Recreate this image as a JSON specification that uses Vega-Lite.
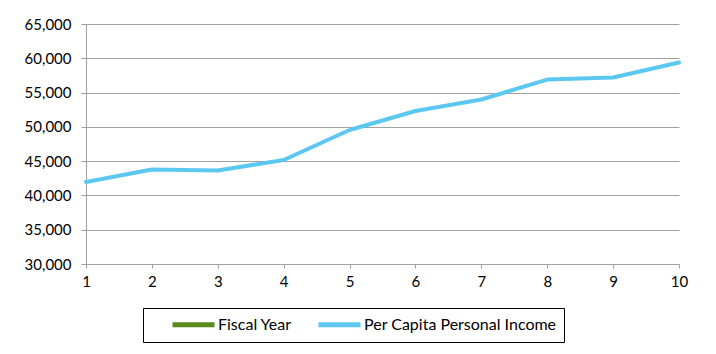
{
  "$schema": "https://vega.github.io/schema/vega-lite/v6.json",
  "autosize": {"type": "none"},
  "width": 593,
  "height": 240,
  "padding": {"left": 86, "top": 24, "right": 37, "bottom": 90},
  "background": "white",
  "config": {
    "view": {"stroke": null},
    "font": "Lato",
    "axis": {
      "labelFont": "Lato",
      "labelFontSize": 15,
      "labelColor": "#000000",
      "domainColor": "#A0A0A0",
      "tickColor": "#A0A0A0",
      "gridColor": "#A0A0A0",
      "gridWidth": 1,
      "tickSize": 5,
      "title": null
    }
  },
  "data": {
    "values": [
      {"year": 1, "value": 41960, "series": "Per Capita Personal Income"},
      {"year": 2, "value": 43780, "series": "Per Capita Personal Income"},
      {"year": 3, "value": 43640, "series": "Per Capita Personal Income"},
      {"year": 4, "value": 45170, "series": "Per Capita Personal Income"},
      {"year": 5, "value": 49540, "series": "Per Capita Personal Income"},
      {"year": 6, "value": 52310, "series": "Per Capita Personal Income"},
      {"year": 7, "value": 53990, "series": "Per Capita Personal Income"},
      {"year": 8, "value": 56900, "series": "Per Capita Personal Income"},
      {"year": 9, "value": 57200, "series": "Per Capita Personal Income"},
      {"year": 10, "value": 59385, "series": "Per Capita Personal Income"}
    ]
  },
  "mark": {"type": "line", "strokeWidth": 4, "strokeJoin": "round", "strokeCap": "round"},
  "encoding": {
    "x": {
      "field": "year",
      "type": "quantitative",
      "scale": {"domain": [1, 10], "nice": false, "zero": false},
      "axis": {"values": [1, 2, 3, 4, 5, 6, 7, 8, 9, 10], "grid": false, "labelPadding": 6, "tickSize": 4, "labelFlush": false, "format": "d"}
    },
    "y": {
      "field": "value",
      "type": "quantitative",
      "scale": {"domain": [30000, 65000], "nice": false, "zero": false},
      "axis": {"values": [30000, 35000, 40000, 45000, 50000, 55000, 60000, 65000], "grid": true, "format": ",d", "labelPadding": 10, "labelFlush": false}
    },
    "color": {
      "field": "series",
      "type": "nominal",
      "scale": {
        "domain": ["Fiscal Year", "Per Capita Personal Income"],
        "range": ["#5A8A1C", "#5CC8F2"]
      },
      "legend": {
        "title": null,
        "orient": "none",
        "legendX": 57,
        "legendY": 284,
        "direction": "horizontal",
        "symbolType": "M-3,0H3",
        "symbolSize": 196,
        "symbolStrokeWidth": 5,
        "symbolOffset": 34,
        "labelFont": "Lato",
        "labelFontSize": 16,
        "labelColor": "#000000",
        "labelOffset": 15,
        "labelLimit": 400,
        "columnPadding": 4,
        "padding": 7,
        "strokeColor": "#000000",
        "fillColor": "#FFFFFF"
      }
    }
  }
}
